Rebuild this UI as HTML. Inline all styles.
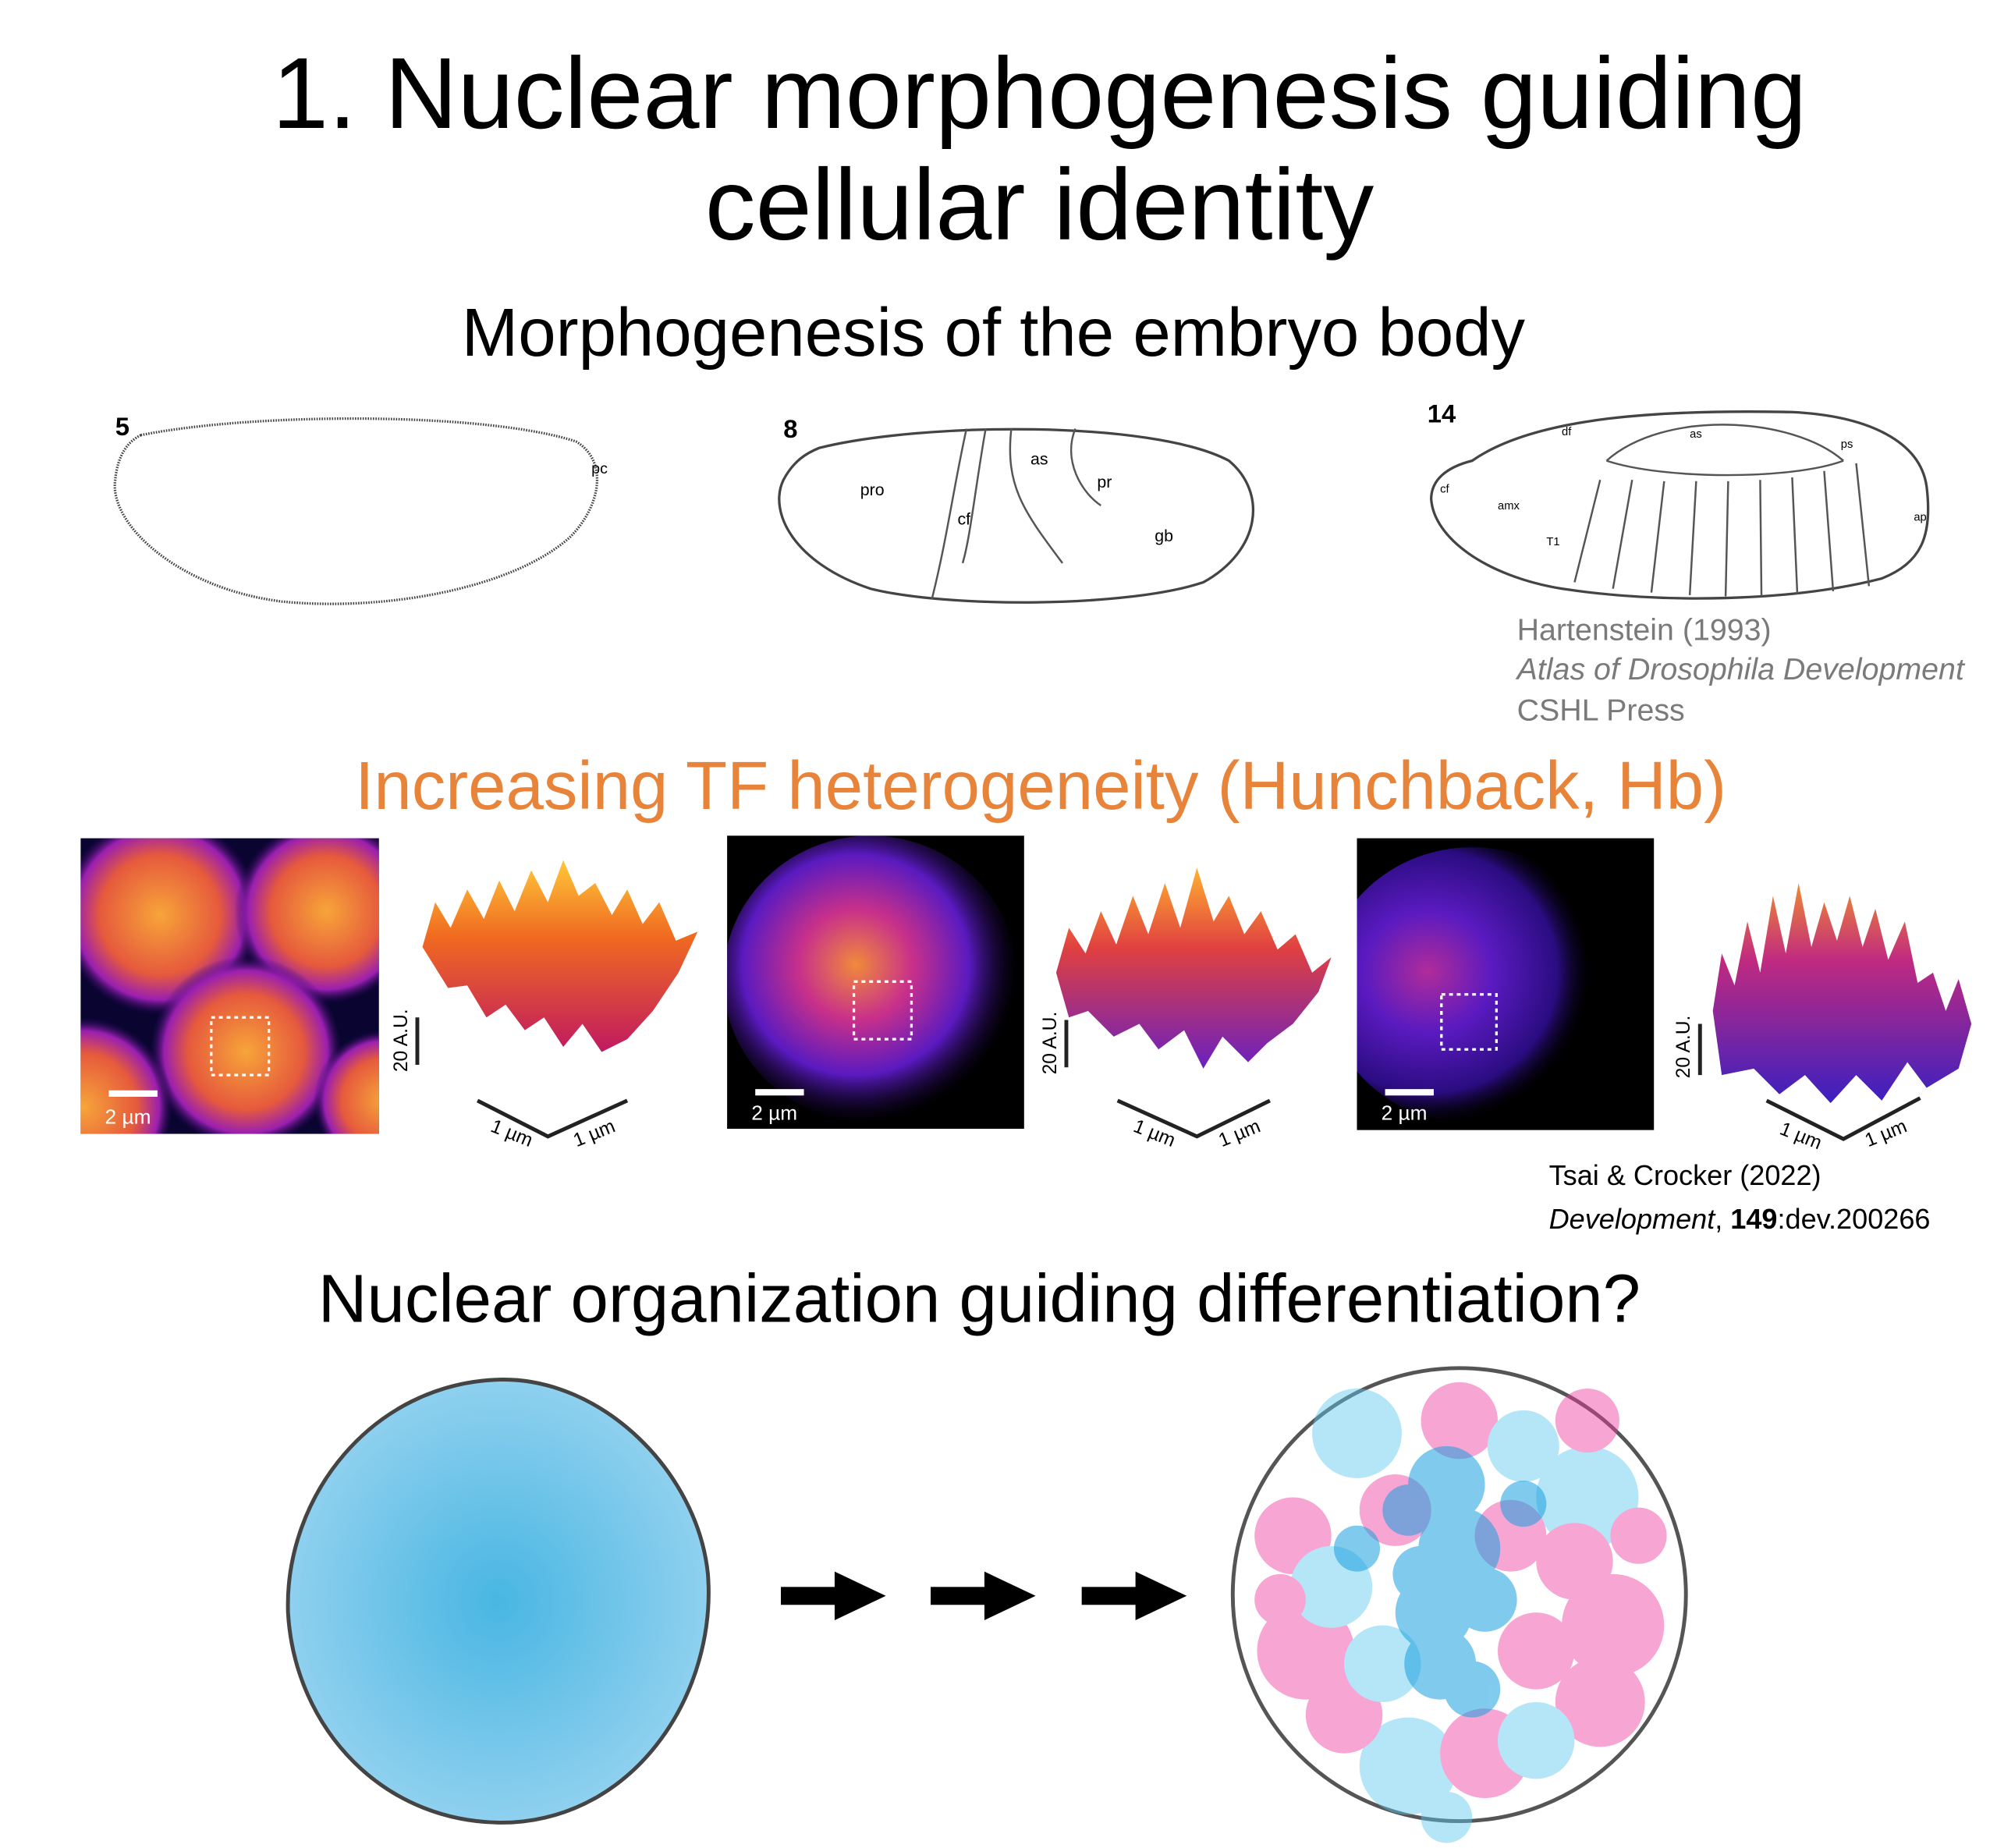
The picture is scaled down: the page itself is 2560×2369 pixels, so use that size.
<!DOCTYPE html>
<html><head><meta charset="utf-8"><style>
html,body{margin:0;padding:0;background:#fff}
svg{display:block}
text{font-family:"Liberation Sans",sans-serif}
</style></head><body>
<svg width="2560" height="2369" viewBox="0 0 1560 1444" preserveAspectRatio="none" xmlns="http://www.w3.org/2000/svg">
<defs>
<radialGradient id="blob" cx="50%" cy="50%" r="50%"><stop offset="0" stop-color="#48b6e3"/><stop offset="1" stop-color="#8fd0ee"/></radialGradient>
<radialGradient id="nuc" cx="50%" cy="50%" r="50%"><stop offset="0" stop-color="#f7a53a"/><stop offset="0.6" stop-color="#e65a3c"/><stop offset="0.85" stop-color="#9a1fb0"/><stop offset="1" stop-color="#2a0a60" stop-opacity="0"/></radialGradient>
<radialGradient id="nuc2" cx="45%" cy="45%" r="55%"><stop offset="0" stop-color="#f08a3a"/><stop offset="0.35" stop-color="#c8308a"/><stop offset="0.7" stop-color="#5a1ac0"/><stop offset="1" stop-color="#1a0640" stop-opacity="0"/></radialGradient>
<radialGradient id="nuc3" cx="35%" cy="45%" r="55%"><stop offset="0" stop-color="#b02c9a"/><stop offset="0.4" stop-color="#5a1ac0"/><stop offset="0.8" stop-color="#2a0c80"/><stop offset="1" stop-color="#0a0220" stop-opacity="0"/></radialGradient>
<linearGradient id="surf" x1="0" y1="0" x2="0" y2="1"><stop offset="0" stop-color="#ffc83a"/><stop offset="0.4" stop-color="#f06a20"/><stop offset="1" stop-color="#c01a60"/></linearGradient>
<linearGradient id="surf2" x1="0" y1="0" x2="0" y2="1"><stop offset="0" stop-color="#ffb030"/><stop offset="0.4" stop-color="#e04040"/><stop offset="1" stop-color="#6a20c0"/></linearGradient>
<linearGradient id="surf3" x1="0" y1="0" x2="0" y2="1"><stop offset="0" stop-color="#f08a30"/><stop offset="0.35" stop-color="#c02a80"/><stop offset="1" stop-color="#3a20c0"/></linearGradient>
<clipPath id="c1"><rect x="63" y="655" width="233" height="231"/></clipPath>
<clipPath id="c2"><rect x="568" y="653" width="232" height="229"/></clipPath>
<clipPath id="c3"><rect x="1060" y="655" width="232" height="228"/></clipPath>
</defs>
<text x="812" y="100" font-size="79" text-anchor="middle">1. Nuclear morphogenesis guiding</text>
<text x="812" y="187" font-size="79" text-anchor="middle">cellular identity</text>
<text x="776" y="278" font-size="53" text-anchor="middle">Morphogenesis of the embryo body</text>

<!-- embryo 5 -->
<text x="90" y="340" font-size="20" font-weight="bold">5</text>
<path d="M110,340 C200,322 380,322 450,345 C475,360 470,395 445,420 C400,460 300,478 220,470 C140,460 85,410 90,375 C92,355 100,345 110,340 Z" fill="#fff" stroke="#444" stroke-width="2" stroke-dasharray="1 1"/>
<text x="462" y="370" font-size="12">pc</text>
<!-- embryo 8 -->
<text x="612" y="342" font-size="20" font-weight="bold">8</text>
<path d="M640,350 C720,330 900,328 960,360 C990,385 985,430 940,455 C880,475 740,475 680,460 C620,440 600,400 612,375 C620,360 630,354 640,350 Z" fill="#fff" stroke="#444" stroke-width="2"/>
<path d="M755,335 C745,380 740,420 728,468 M770,335 C762,380 758,420 752,440 M790,335 C785,380 800,400 830,440 M840,335 C830,360 845,385 860,395" fill="none" stroke="#555" stroke-width="1.5"/>
<text x="672" y="387" font-size="13">pro</text><text x="748" y="410" font-size="13">cf</text><text x="805" y="363" font-size="13">as</text><text x="857" y="381" font-size="13">pr</text><text x="902" y="423" font-size="13">gb</text>
<!-- embryo 14 -->
<text x="1115" y="330" font-size="20" font-weight="bold">14</text>
<path d="M1150,360 C1200,325 1300,320 1400,322 C1460,325 1500,345 1505,380 C1510,420 1500,440 1470,452 C1400,470 1300,472 1220,460 C1160,450 1120,420 1118,390 C1118,375 1130,365 1150,360 Z" fill="#fff" stroke="#444" stroke-width="2"/>
<path d="M1255,360 C1300,320 1400,325 1440,360 M1255,360 C1300,375 1400,375 1440,360" fill="none" stroke="#555" stroke-width="1.5"/>
<g stroke="#555" stroke-width="1.5"><line x1="1250" y1="375" x2="1230" y2="455"/><line x1="1275" y1="375" x2="1260" y2="460"/><line x1="1300" y1="376" x2="1290" y2="463"/><line x1="1325" y1="376" x2="1320" y2="465"/><line x1="1350" y1="376" x2="1348" y2="466"/><line x1="1375" y1="375" x2="1376" y2="466"/><line x1="1400" y1="373" x2="1404" y2="464"/><line x1="1425" y1="368" x2="1432" y2="462"/><line x1="1450" y1="362" x2="1460" y2="458"/></g>
<text x="1125" y="385" font-size="9">cf</text><text x="1220" y="340" font-size="9">df</text><text x="1320" y="342" font-size="9">as</text><text x="1438" y="350" font-size="9">ps</text><text x="1170" y="398" font-size="9">amx</text><text x="1208" y="426" font-size="9">T1</text><text x="1495" y="407" font-size="9">ap</text>
<g font-size="24" fill="#7a7a7a"><text x="1185" y="500">Hartenstein (1993)</text><text x="1185" y="531" font-style="italic">Atlas of Drosophila Development</text><text x="1185" y="563">CSHL Press</text></g>

<text x="813" y="632" font-size="53" fill="#e8833a" text-anchor="middle">Increasing TF heterogeneity (Hunchback, Hb)</text>

<!-- image 1 -->
<rect x="63" y="655" width="233" height="231" fill="#0a0430"/>
<g clip-path="url(#c1)">
<circle cx="125" cy="715" r="78" fill="url(#nuc)"/><circle cx="255" cy="712" r="72" fill="url(#nuc)"/><circle cx="192" cy="822" r="75" fill="url(#nuc)"/><circle cx="65" cy="865" r="70" fill="url(#nuc)"/><circle cx="300" cy="860" r="55" fill="url(#nuc)"/>
</g>
<rect x="165" y="795" width="45" height="45" fill="none" stroke="#fff" stroke-width="2" stroke-dasharray="3 3"/>
<rect x="85" y="852" width="38" height="5" fill="#fff"/><text x="82" y="878" font-size="16" fill="#fff">2 µm</text>
<!-- image 2 -->
<rect x="568" y="653" width="232" height="229" fill="#000"/>
<g clip-path="url(#c2)"><ellipse cx="680" cy="765" rx="115" ry="112" fill="url(#nuc2)"/></g>
<rect x="667" y="767" width="45" height="45" fill="none" stroke="#fff" stroke-width="2" stroke-dasharray="3 3"/>
<rect x="590" y="851" width="38" height="5" fill="#fff"/><text x="587" y="875" font-size="16" fill="#fff">2 µm</text>
<!-- image 3 -->
<rect x="1060" y="655" width="232" height="228" fill="#000"/>
<g clip-path="url(#c3)"><ellipse cx="1150" cy="770" rx="115" ry="108" fill="url(#nuc3)"/></g>
<rect x="1126" y="777" width="43" height="43" fill="none" stroke="#fff" stroke-width="2" stroke-dasharray="3 3"/>
<rect x="1082" y="851" width="38" height="5" fill="#fff"/><text x="1079" y="875" font-size="16" fill="#fff">2 µm</text>

<!-- surfaces -->
<polygon points="330,740 340,705 352,725 365,695 378,718 390,688 402,712 415,680 428,705 440,672 452,700 465,690 478,715 490,695 502,722 515,705 528,735 545,728 530,760 510,790 490,812 470,822 455,800 440,818 425,795 410,805 395,785 380,795 365,770 350,772" fill="url(#surf)"/>
<polygon points="825,760 835,725 848,745 860,712 872,738 885,700 897,730 910,690 922,725 935,678 948,720 960,700 972,730 985,712 998,742 1012,730 1025,760 1040,748 1030,775 1010,800 990,815 975,830 955,810 940,835 925,805 905,820 890,800 870,810 850,790 835,795" fill="url(#surf2)"/>
<polygon points="1338,790 1345,745 1355,770 1365,720 1375,760 1385,700 1395,745 1405,690 1415,740 1425,705 1435,735 1445,700 1455,740 1465,710 1475,750 1488,720 1498,768 1510,760 1520,790 1530,765 1540,800 1530,835 1505,850 1490,830 1470,860 1450,840 1430,862 1410,840 1390,855 1370,835 1345,840" fill="url(#surf3)"/>
<!-- axes -->
<g stroke="#222" stroke-width="3" fill="none">
<polyline points="373,860 428,888 490,860"/><line x1="326" y1="795" x2="326" y2="832"/>
<polyline points="873,860 935,888 992,860"/><line x1="833" y1="797" x2="833" y2="834"/>
<polyline points="1380,860 1440,890 1500,858"/><line x1="1328" y1="800" x2="1328" y2="840"/>
</g>
<g font-size="15">
<text transform="translate(318,813) rotate(-90)" text-anchor="middle">20 A.U.</text>
<text transform="translate(398,890) rotate(22)" text-anchor="middle">1 µm</text><text transform="translate(466,890) rotate(-22)" text-anchor="middle">1 µm</text>
<text transform="translate(825,815) rotate(-90)" text-anchor="middle">20 A.U.</text>
<text transform="translate(900,890) rotate(22)" text-anchor="middle">1 µm</text><text transform="translate(970,890) rotate(-22)" text-anchor="middle">1 µm</text>
<text transform="translate(1320,818) rotate(-90)" text-anchor="middle">20 A.U.</text>
<text transform="translate(1405,892) rotate(22)" text-anchor="middle">1 µm</text><text transform="translate(1475,890) rotate(-22)" text-anchor="middle">1 µm</text>
</g>
<g font-size="22"><text x="1210" y="926">Tsai &amp; Crocker (2022)</text><text x="1210" y="960"><tspan font-style="italic">Development</tspan>, <tspan font-weight="bold">149</tspan>:dev.200266</text></g>

<text x="765" y="1033" font-size="53" text-anchor="middle">Nuclear organization guiding differentiation?</text>

<path d="M390,1078 C470,1076 545,1150 553,1230 C560,1320 500,1418 400,1424 C300,1428 230,1350 225,1260 C222,1170 290,1081 390,1078 Z" fill="url(#blob)" stroke="#444" stroke-width="3"/>
<g fill="#000">
<rect x="610" y="1240" width="50" height="14"/><polygon points="652,1228 692,1247 652,1266"/>
<rect x="727" y="1240" width="50" height="14"/><polygon points="769,1228 809,1247 769,1266"/>
<rect x="845" y="1240" width="50" height="14"/><polygon points="887,1228 927,1247 887,1266"/>
</g>
<circle cx="1140" cy="1246" r="177" fill="#fff" stroke="#555" stroke-width="3"/>
<g opacity="0.45">
<circle cx="1240" cy="1170" r="40" fill="#5cc8ee"/><circle cx="1060" cy="1120" r="35" fill="#5cc8ee"/><circle cx="1010" cy="1200" r="30" fill="#ee3aa0"/><circle cx="1020" cy="1290" r="38" fill="#ee3aa0"/><circle cx="1260" cy="1270" r="40" fill="#ee3aa0"/><circle cx="1250" cy="1330" r="35" fill="#ee3aa0"/><circle cx="1100" cy="1380" r="38" fill="#5cc8ee"/><circle cx="1160" cy="1370" r="35" fill="#ee3aa0"/><circle cx="1050" cy="1340" r="30" fill="#ee3aa0"/><circle cx="1200" cy="1360" r="30" fill="#5cc8ee"/><circle cx="1140" cy="1110" r="30" fill="#ee3aa0"/><circle cx="1190" cy="1130" r="28" fill="#5cc8ee"/><circle cx="1230" cy="1220" r="30" fill="#ee3aa0"/><circle cx="1040" cy="1240" r="32" fill="#5cc8ee"/><circle cx="1080" cy="1300" r="30" fill="#5cc8ee"/><circle cx="1200" cy="1290" r="30" fill="#ee3aa0"/><circle cx="1000" cy="1250" r="20" fill="#ee3aa0"/><circle cx="1280" cy="1200" r="22" fill="#ee3aa0"/><circle cx="1090" cy="1180" r="28" fill="#ee3aa0"/><circle cx="1180" cy="1200" r="28" fill="#ee3aa0"/><circle cx="1130" cy="1420" r="20" fill="#5cc8ee"/><circle cx="1240" cy="1110" r="25" fill="#ee3aa0"/>
</g>
<g opacity="0.55" fill="#1aa0e0">
<circle cx="1130" cy="1160" r="30"/><circle cx="1140" cy="1210" r="32"/><circle cx="1120" cy="1260" r="30"/><circle cx="1125" cy="1300" r="28"/><circle cx="1110" cy="1230" r="22"/><circle cx="1160" cy="1250" r="25"/><circle cx="1100" cy="1180" r="20"/><circle cx="1150" cy="1320" r="22"/><circle cx="1060" cy="1210" r="18"/><circle cx="1190" cy="1175" r="18"/>
</g>
</svg>
</body></html>
